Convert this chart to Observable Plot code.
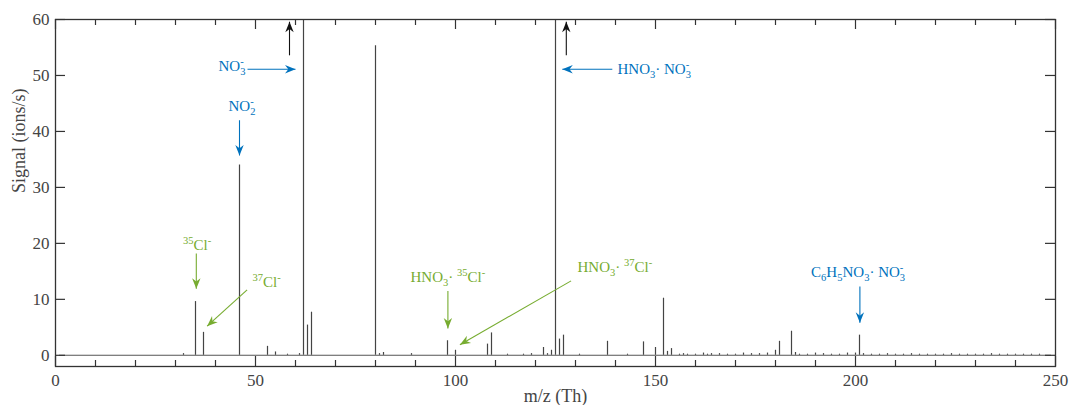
<!DOCTYPE html>
<html>
<head>
<meta charset="utf-8">
<script src="https://cdn.jsdelivr.net/npm/d3@7"></script>
<script src="https://cdn.jsdelivr.net/npm/@observablehq/plot@0.6"></script>
<style>
  body { margin: 0; background: #fff; }
  #chart svg { display: block; }
</style>
</head>
<body>
<div id="chart"></div>
<script>
// Stick mass spectrum: peak position (m/z, Th) and signal (ions/s).
// Peaks at 62 and 125 run far off the top of the axis.
const peakMz = [32, 35, 37, 46, 53, 55, 58, 61, 62, 63, 64, 80, 81, 82, 89, 98, 100, 108, 109, 113,
  117, 119, 122, 123, 124, 125, 126, 127, 131, 138, 143, 147, 150, 152, 153, 154, 156, 157, 158, 160,
  162, 163, 164, 166, 168, 170, 172, 174, 176, 178, 180, 181, 184, 185, 186, 188, 190, 192, 194, 196,
  198, 200, 201, 202, 204, 206, 208, 210, 212, 214, 216, 218, 220, 222, 224, 226, 228, 230, 232, 234,
  236, 238, 240, 242, 244, 246];
const peakSignal = [0.3, 9.6, 4.1, 34, 1.6, 0.6, 0.2, 0.3, 130, 5.4, 7.7, 55.3, 0.3, 0.5, 0.3, 2.6, 0.9, 2.0, 4.0, 0.2,
  0.2, 0.3, 1.4, 0.3, 0.9, 90, 2.9, 3.6, 0.2, 2.5, 0.2, 2.4, 1.4, 10.2, 0.7, 1.2, 0.2, 0.3, 0.2, 0.2,
  0.4, 0.2, 0.3, 0.3, 0.2, 0.2, 0.4, 0.3, 0.3, 0.4, 0.9, 2.5, 4.3, 0.5, 0.2, 0.2, 0.4, 0.3, 0.2, 0.2,
  0.4, 0.4, 3.6, 0.3, 0.2, 0.2, 0.3, 0.2, 0.2, 0.3, 0.2, 0.2, 0.2, 0.2, 0.3, 0.2, 0.2, 0.2, 0.2, 0.3,
  0.2, 0.2, 0.2, 0.2, 0.2, 0.2];

// Axis ticks
const xMajorTicks = [0, 50, 100, 150, 200, 250];
const xMinorTicks = [10, 20, 30, 40, 60, 70, 80, 90, 110, 120, 130, 140, 160, 170, 180, 190, 210, 220, 230, 240];
const yTicks = [0, 10, 20, 30, 40, 50, 60];

// Ion labels (_ = subscript, ^ = superscript) and where they sit in data units
const ionLabels = ["NO_3^-", "NO_2^-", "HNO_3· NO_3^-", "C_6H_5NO_3· NO_3^-",
  "^{35}Cl^-", "^{37}Cl^-", "HNO_3· ^{35}Cl^-", "HNO_3· ^{37}Cl^-"];
const ionLabelMz = [40.75, 43.25, 140.5, 188.9, 31.9, 49.25, 88.75, 130.5];
const ionLabelSignal = [51.6, 44.5, 51.2, 14.8, 19.7, 13.1, 14.0, 15.8];
const ionGroup = ["nitrate", "nitrate", "nitrate", "nitrate", "chloride", "chloride", "chloride", "chloride"];

// Arrows from each label to its peak, plus two "off scale" arrows
const arrowX1 = [48, 46, 139.2, 201.1, 35.2, 47.9, 98.1, 128.9, 58.5, 127.7];
const arrowY1 = [51.1, 42, 51.1, 12.3, 18.2, 11.7, 11.5, 13.3, 53.6, 53.6];
const arrowX2 = [60, 46, 126.7, 201.1, 35.2, 37.9, 98.1, 101.1, 58.5, 127.7];
const arrowY2 = [51.1, 35.7, 51.1, 5.8, 11.9, 5.2, 4.8, 1.9, 59.6, 59.6];
const arrowGroup = ["nitrate", "nitrate", "nitrate", "nitrate", "chloride", "chloride", "chloride", "chloride", "offscale", "offscale"];

const groupColor = {nitrate: "#0072BD", chloride: "#77AC30", offscale: "#111111"};
const axisColor = "#333333";

const peaks = peakMz.map((m, i) => ({mz: m, signal: peakSignal[i]}));
const labels = ionLabels.map((t, i) => ({text: t, x: ionLabelMz[i], y: ionLabelSignal[i], group: ionGroup[i]}));
const arrows = arrowX1.map((x1, i) => ({x1, y1: arrowY1[i], x2: arrowX2[i], y2: arrowY2[i], group: arrowGroup[i]}));

// Chart geometry
const W = 1069, H = 405;
const M = {left: 55, right: 14, top: 19, bottom: 39};
const plotW = W - M.left - M.right;
const plotH = H - M.top - M.bottom;

// Inward tick marks: a tickX spans the whole frame, so inset it down to its length
const inwardX = (ticks, len) => [
  Plot.tickX(ticks, {insetTop: plotH - len, stroke: axisColor, strokeWidth: 1.2}),
  Plot.tickX(ticks, {insetBottom: plotH - len, stroke: axisColor, strokeWidth: 1.2})
];
const inwardY = (ticks, len) => [
  Plot.tickY(ticks, {insetRight: plotW - len, stroke: axisColor, strokeWidth: 1.2}),
  Plot.tickY(ticks, {insetLeft: plotW - len, stroke: axisColor, strokeWidth: 1.2})
];

// Filled, swept-back arrowhead
function arrowHead(color) {
  const ns = "http://www.w3.org/2000/svg";
  const m = document.createElementNS(ns, "marker");
  m.setAttribute("viewBox", "-11 -5 12 10");
  m.setAttribute("markerWidth", 12);
  m.setAttribute("markerHeight", 10);
  m.setAttribute("markerUnits", "userSpaceOnUse");
  m.setAttribute("orient", "auto");
  m.setAttribute("refX", 0);
  m.setAttribute("refY", 0);
  const p = document.createElementNS(ns, "path");
  p.setAttribute("d", "M0,0L-10.5,-4.2L-7.2,0L-10.5,4.2Z");
  p.setAttribute("fill", color);
  p.setAttribute("stroke", "none");
  m.appendChild(p);
  return m;
}

const chart = Plot.plot({
  width: W,
  height: H,
  marginLeft: M.left,
  marginRight: M.right,
  marginTop: M.top,
  marginBottom: M.bottom,
  style: {fontFamily: "'Liberation Serif', serif", fontSize: "17px", color: axisColor, background: "#fff"},
  x: {domain: [0, 250]},
  y: {domain: [-2, 60]},
  marks: [
    // zero line of the spectrum
    Plot.ruleY([0], {x1: 1, x2: 249, stroke: "#555", strokeWidth: 1.1}),
    // peaks
    Plot.ruleX(peaks, {x: "mz", y1: 0, y2: "signal", stroke: "#444", strokeWidth: 1.2, clip: true}),
    // inward ticks on all four sides
    ...inwardX(xMinorTicks, 6),
    ...inwardX(xMajorTicks, 10),
    ...inwardY(yTicks, 10),
    // tick labels
    Plot.axisX({anchor: "bottom", ticks: xMajorTicks, tickSize: 0, tickPadding: 7, label: null, fill: "#444"}),
    Plot.axisY({anchor: "left", ticks: yTicks, tickSize: 0, tickPadding: 6, label: null, fill: "#444"}),
    Plot.frame({stroke: axisColor, strokeWidth: 1.3}),
    // axis titles
    Plot.text(["m/z (Th)"], {frameAnchor: "bottom", dy: 30, fontSize: 18, fill: "#444", lineAnchor: "middle"}),
    Plot.text(["Signal (ions/s)"], {frameAnchor: "left", dx: -36, rotate: -90, fontSize: 18, fill: "#444", lineAnchor: "middle"}),
    // annotation arrows and ion labels
    Plot.link(arrows, {x1: "x1", y1: "y1", x2: "x2", y2: "y2",
      stroke: d => groupColor[d.group], strokeWidth: 1.1, markerEnd: arrowHead}),
    Plot.text(labels, {x: "x", y: "y", text: "text", textAnchor: "start", lineAnchor: "middle",
      fill: d => groupColor[d.group], fontSize: 15, className: "ion-label"})
  ]
});

document.getElementById("chart").appendChild(chart);

// Typeset _sub and ^sup parts of the ion labels as tspans
const svgns = "http://www.w3.org/2000/svg";
chart.querySelectorAll(".ion-label text").forEach(el => {
  const s = el.textContent;
  const tokens = [];
  let buf = "", i = 0;
  while (i < s.length) {
    const c = s[i];
    if (c === "_" || c === "^") {
      if (buf) { tokens.push({t: buf, mode: 0}); buf = ""; }
      let t;
      if (s[i + 1] === "{") { const j = s.indexOf("}", i); t = s.slice(i + 2, j); i = j + 1; }
      else { t = s[i + 1]; i += 2; }
      tokens.push({t, mode: c === "_" ? 1 : -1});
    } else { buf += c; i++; }
  }
  if (buf) tokens.push({t: buf, mode: 0});
  el.textContent = "";
  let cur = 0, prev = null, prevSpan = null;
  for (const tok of tokens) {
    const ts = document.createElementNS(svgns, "tspan");
    const target = tok.mode === 1 ? 4 : tok.mode === -1 ? -6 : 0;
    if (target !== cur) ts.setAttribute("dy", target - cur);
    cur = target;
    if (tok.mode) ts.setAttribute("font-size", 10.5);
    if (tok.mode === -1 && prev && prev.mode === 1) {
      ts.setAttribute("dx", -prevSpan.getComputedTextLength());
    }
    ts.textContent = tok.t;
    el.appendChild(ts);
    prev = tok; prevSpan = ts;
  }
});
</script>
</body>
</html>
